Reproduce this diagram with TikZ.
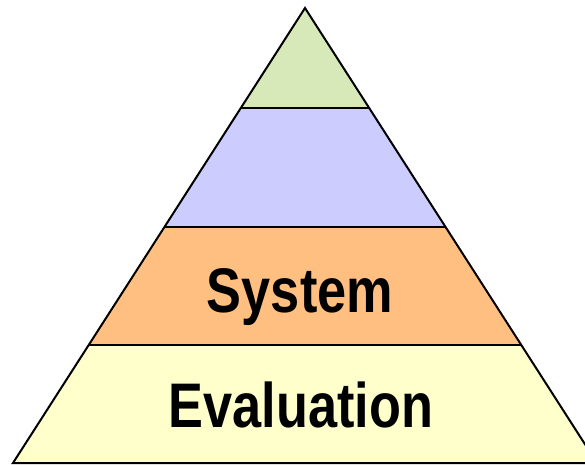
\documentclass[tikz,border=0pt]{standalone}
\usepackage{fontspec}
\newfontfamily\labelfont{Liberation Sans}[FakeStretch=0.83]
\begin{document}
\begin{tikzpicture}[x=1pt,y=-1pt,
  layer/.style={draw=black,line width=2pt,line join=miter},
  tier/.style={font=\labelfont\bfseries\fontsize{63}{63}\selectfont,inner sep=0pt,anchor=base}]
\useasboundingbox (0,0) rectangle (585,464);
\clip (0,0) rectangle (585,464);
% pyramid outline: apex and slope of the sides
\coordinate (apex) at (305,8);
\def\slope{0.6418}
% horizontal cut levels
\def\ya{108}\def\yb{227}\def\yc{345}\def\yd{463}
\fill[fill={rgb,255:red,255;green,255;blue,204}]
  ({305-(\yc-8)*\slope},\yc) -- ({305+(\yc-8)*\slope},\yc) -- ({305+(\yd-8)*\slope},\yd) -- ({305-(\yd-8)*\slope},\yd) -- cycle;
\fill[fill={rgb,255:red,255;green,191;blue,128}]
  ({305-(\yb-8)*\slope},\yb) -- ({305+(\yb-8)*\slope},\yb) -- ({305+(\yc-8)*\slope},\yc) -- ({305-(\yc-8)*\slope},\yc) -- cycle;
\fill[fill={rgb,255:red,204;green,204;blue,255}]
  ({305-(\ya-8)*\slope},\ya) -- ({305+(\ya-8)*\slope},\ya) -- ({305+(\yb-8)*\slope},\yb) -- ({305-(\yb-8)*\slope},\yb) -- cycle;
\fill[fill={rgb,255:red,215;green,233;blue,185}]
  (apex) -- ({305+(\ya-8)*\slope},\ya) -- ({305-(\ya-8)*\slope},\ya) -- cycle;
% dividing lines
\draw[layer] ({305-(\ya-8)*\slope},\ya) -- ({305+(\ya-8)*\slope},\ya);
\draw[layer] ({305-(\yb-8)*\slope},\yb) -- ({305+(\yb-8)*\slope},\yb);
\draw[layer] ({305-(\yc-8)*\slope},\yc) -- ({305+(\yc-8)*\slope},\yc);
% outline
\draw[layer] (apex) -- ({305+(\yd-8)*\slope},\yd) -- ({305-(\yd-8)*\slope},\yd) -- cycle;
% labels
\node[tier] (system) at (300,312) {System};
\node[tier] (evaluation) at (301,427) {Evaluation};
\end{tikzpicture}
\end{document}
